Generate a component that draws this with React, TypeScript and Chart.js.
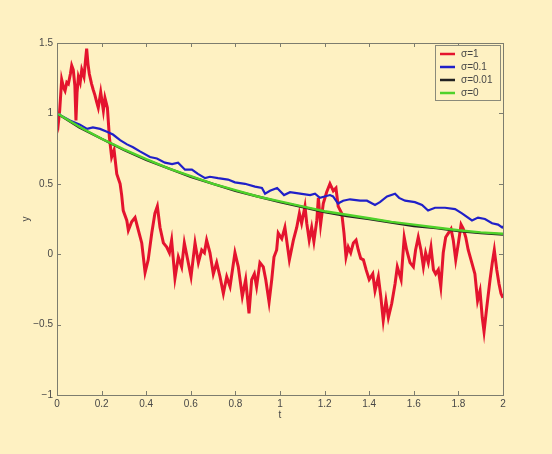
import React, { useEffect, useRef } from "react";
import { Chart, registerables } from "chart.js";

Chart.register(...registerables);

const xTicks = [0, 0.2, 0.4, 0.6, 0.8, 1, 1.2, 1.4, 1.6, 1.8, 2];
const yTicks = [-1, -0.5, 0, 0.5, 1, 1.5];
const legendLabels = ["σ=1", "σ=0.1", "σ=0.01", "σ=0"];

const redT = [0, 0.006, 0.012, 0.021, 0.03, 0.036, 0.044, 0.051, 0.06, 0.066, 0.073, 0.08, 0.085, 0.09, 0.096, 0.104, 0.111, 0.121, 0.128, 0.133, 0.139, 0.145, 0.155, 0.162, 0.17, 0.178, 0.185, 0.196, 0.208, 0.215, 0.226, 0.235, 0.245, 0.256, 0.268, 0.283, 0.29, 0.297, 0.313, 0.32, 0.335, 0.35, 0.365, 0.38, 0.395, 0.409, 0.425, 0.439, 0.45, 0.462, 0.477, 0.492, 0.504, 0.514, 0.529, 0.544, 0.559, 0.571, 0.586, 0.601, 0.619, 0.634, 0.649, 0.661, 0.671, 0.686, 0.701, 0.716, 0.731, 0.746, 0.761, 0.776, 0.798, 0.813, 0.831, 0.846, 0.861, 0.873, 0.885, 0.895, 0.91, 0.925, 0.936, 0.951, 0.963, 0.973, 0.985, 0.992, 1.008, 1.022, 1.042, 1.06, 1.075, 1.087, 1.097, 1.112, 1.12, 1.131, 1.142, 1.152, 1.165, 1.172, 1.182, 1.194, 1.209, 1.224, 1.239, 1.251, 1.261, 1.277, 1.287, 1.296, 1.306, 1.317, 1.329, 1.341, 1.351, 1.362, 1.374, 1.386, 1.4, 1.416, 1.426, 1.441, 1.452, 1.463, 1.475, 1.486, 1.501, 1.516, 1.526, 1.543, 1.557, 1.568, 1.583, 1.598, 1.608, 1.62, 1.632, 1.643, 1.653, 1.665, 1.677, 1.688, 1.698, 1.71, 1.721, 1.732, 1.743, 1.755, 1.767, 1.777, 1.788, 1.8, 1.812, 1.822, 1.833, 1.844, 1.86, 1.874, 1.886, 1.897, 1.907, 1.915, 1.927, 1.942, 1.952, 1.961, 1.972, 1.982, 1.991, 2.0];
const redY = [0.98, 0.93, 1.02, 1.24, 1.18, 1.16, 1.22, 1.21, 1.28, 1.34, 1.31, 1.2, 0.95, 1.15, 1.26, 1.22, 1.31, 1.26, 1.38, 1.46, 1.35, 1.28, 1.21, 1.17, 1.13, 1.08, 1.04, 1.15, 1.02, 1.11, 1.04, 0.83, 0.69, 0.74, 0.57, 0.5, 0.42, 0.31, 0.24, 0.17, 0.23, 0.26, 0.17, 0.08, -0.13, -0.04, 0.15, 0.29, 0.34, 0.19, 0.08, 0.05, 0.01, 0.1, -0.17, -0.02, -0.09, 0.08, -0.04, -0.16, 0.08, -0.06, 0.03, 0.01, 0.1, 0.01, -0.14, -0.06, -0.16, -0.28, -0.16, -0.23, 0.01, -0.09, -0.3, -0.18, -0.42, -0.18, -0.14, -0.23, -0.06, -0.09, -0.18, -0.34, -0.18, -0.02, 0.03, 0.15, 0.11, 0.19, -0.04, 0.1, 0.19, 0.29, 0.22, 0.34, 0.22, 0.1, 0.19, 0.09, 0.24, 0.4, 0.21, 0.36, 0.44, 0.5, 0.45, 0.47, 0.34, 0.29, 0.15, -0.02, 0.05, 0.01, 0.08, 0.1, 0.03, -0.03, -0.04, -0.11, -0.18, -0.14, -0.26, -0.16, -0.3, -0.47, -0.33, -0.45, -0.35, -0.21, -0.09, -0.18, 0.12, 0.03, -0.06, -0.09, 0.03, 0.12, 0.03, -0.09, 0.01, -0.06, 0.05, -0.11, -0.14, -0.11, -0.23, 0.01, 0.12, 0.15, 0.18, 0.1, -0.04, 0.08, 0.21, 0.18, 0.12, 0.03, -0.06, -0.14, -0.33, -0.26, -0.45, -0.55, -0.38, -0.18, -0.06, 0.03, -0.11, -0.21, -0.28, -0.31];

const blueT = [0, 0.058, 0.103, 0.135, 0.161, 0.193, 0.224, 0.251, 0.283, 0.314, 0.341, 0.372, 0.417, 0.448, 0.484, 0.516, 0.543, 0.574, 0.605, 0.632, 0.664, 0.686, 0.722, 0.767, 0.798, 0.843, 0.888, 0.919, 0.933, 0.955, 0.987, 1.018, 1.045, 1.09, 1.135, 1.157, 1.179, 1.224, 1.238, 1.26, 1.283, 1.314, 1.359, 1.39, 1.426, 1.448, 1.48, 1.516, 1.534, 1.561, 1.605, 1.637, 1.664, 1.695, 1.74, 1.785, 1.816, 1.861, 1.888, 1.919, 1.951, 1.978, 1.996, 2.0];
const blueY = [1.0, 0.95, 0.92, 0.89, 0.9, 0.89, 0.87, 0.85, 0.81, 0.78, 0.76, 0.73, 0.69, 0.68, 0.65, 0.64, 0.65, 0.6, 0.6, 0.57, 0.54, 0.55, 0.54, 0.53, 0.51, 0.5, 0.48, 0.47, 0.43, 0.45, 0.47, 0.42, 0.44, 0.43, 0.42, 0.43, 0.4, 0.42, 0.41, 0.36, 0.38, 0.39, 0.38, 0.38, 0.35, 0.37, 0.41, 0.43, 0.4, 0.38, 0.37, 0.35, 0.31, 0.33, 0.33, 0.32, 0.29, 0.24, 0.26, 0.25, 0.22, 0.21, 0.19, 0.2];

const smoothT = [0, 0.1, 0.2, 0.3, 0.4, 0.5, 0.6, 0.7, 0.8, 0.9, 1.0, 1.1, 1.2, 1.3, 1.4, 1.5, 1.6, 1.7, 1.8, 1.9, 2.0];
const blackY = [1.0, 0.9, 0.82, 0.74, 0.67, 0.61, 0.55, 0.5, 0.45, 0.41, 0.37, 0.335, 0.3, 0.27, 0.25, 0.225, 0.2, 0.185, 0.165, 0.15, 0.14];
const greenY = [1.0, 0.905, 0.82, 0.745, 0.675, 0.61, 0.555, 0.5, 0.455, 0.41, 0.375, 0.34, 0.305, 0.28, 0.255, 0.23, 0.21, 0.19, 0.17, 0.155, 0.145];

const colors = ["#e4142e", "#2020c8", "#222222", "#4fd22a"];
const BG = "#fef1c2";
const FRAME = "#7d7d6e";
const TEXT = "#474747";
const FONT = "Liberation Sans, Arial, sans-serif";

const pts = (t: number[], y: number[]) => t.map((v, i) => ({ x: v, y: y[i] }));
const fmt = (v: number) => {
  const r = Math.round(v * 10) / 10;
  return String(r).replace("-", "\u2212");
};

const framePlugin = {
  id: "frame",
  afterDraw(chart: any) {
    const { ctx, chartArea: a, scales } = chart;
    ctx.save();
    ctx.strokeStyle = FRAME;
    ctx.lineWidth = 1;
    ctx.strokeRect(a.left + 0.5, a.top + 0.5, a.right - a.left, a.bottom - a.top);
    const L = 4;
    ctx.beginPath();
    xTicks.forEach((v) => {
      const x = Math.round(scales.x.getPixelForValue(v)) + 0.5;
      ctx.moveTo(x, a.bottom);
      ctx.lineTo(x, a.bottom - L);
      ctx.moveTo(x, a.top);
      ctx.lineTo(x, a.top + L);
    });
    yTicks.forEach((v) => {
      const y = Math.round(scales.y.getPixelForValue(v)) + 0.5;
      ctx.moveTo(a.left, y);
      ctx.lineTo(a.left + L, y);
      ctx.moveTo(a.right, y);
      ctx.lineTo(a.right - L, y);
    });
    ctx.stroke();

    // axis titles
    ctx.fillStyle = TEXT;
    ctx.font = `10px ${FONT}`;
    ctx.textAlign = "center";
    ctx.textBaseline = "middle";
    ctx.fillText("t", (a.left + a.right) / 2, 415);
    ctx.save();
    ctx.translate(26, (a.top + a.bottom) / 2);
    ctx.rotate(-Math.PI / 2);
    ctx.fillText("y", 0, 0);
    ctx.restore();

    // legend
    const lx = 435, ly = 45, lw = 65, lh = 55;
    ctx.fillStyle = BG;
    ctx.fillRect(lx, ly, lw, lh);
    ctx.strokeStyle = "#8a8a7a";
    ctx.strokeRect(lx + 0.5, ly + 0.5, lw, lh);
    legendLabels.forEach((lab, i) => {
      const y = 54 + i * 13;
      ctx.strokeStyle = colors[i];
      ctx.lineWidth = 2.5;
      ctx.beginPath();
      ctx.moveTo(440, y);
      ctx.lineTo(455, y);
      ctx.stroke();
      ctx.fillStyle = TEXT;
      ctx.textAlign = "left";
      ctx.textBaseline = "middle";
      ctx.font = `10px ${FONT}`;
      ctx.fillText(lab, 461, y + 0.5);
    });
    ctx.restore();
  },
};

export default function App() {
  const ref = useRef<HTMLCanvasElement>(null);
  useEffect(() => {
    if (!ref.current) return;
    const mk = (label: string, data: any, color: string, order: number, w: number) => ({
      label,
      data,
      borderColor: color,
      backgroundColor: color,
      borderWidth: w,
      pointRadius: 0,
      tension: 0,
      fill: false,
      order,
    });
    const chart = new Chart(ref.current, {
      type: "line",
      data: {
        datasets: [
          mk(legendLabels[0], pts(redT, redY), colors[0], 4, 3),
          mk(legendLabels[1], pts(blueT, blueY), colors[1], 3, 2.2),
          mk(legendLabels[2], pts(smoothT, blackY), colors[2], 2, 2.4),
          mk(legendLabels[3], pts(smoothT, greenY), colors[3], 1, 2.4),
        ],
      },
      options: {
        animation: false,
        responsive: false,
        maintainAspectRatio: false,
        layout: { padding: { left: 0, right: 49, top: 43, bottom: 0 } },
        plugins: { legend: { display: false }, tooltip: { enabled: false } },
        scales: {
          x: {
            type: "linear",
            min: 0,
            max: 2,
            afterFit: (s: any) => { s.height = 59; },
            afterBuildTicks: (s: any) => { s.ticks = xTicks.map((v) => ({ value: v })); },
            grid: { display: false, drawTicks: false },
            border: { display: false },
            ticks: { callback: (v: any) => fmt(Number(v)), color: TEXT, font: { family: FONT, size: 10 }, padding: 3, maxRotation: 0, autoSkip: false },
          },
          y: {
            type: "linear",
            min: -1,
            max: 1.5,
            afterFit: (s: any) => { s.width = 57; },
            afterBuildTicks: (s: any) => { s.ticks = yTicks.map((v) => ({ value: v })); },
            grid: { display: false, drawTicks: false },
            border: { display: false },
            ticks: { callback: (v: any) => fmt(Number(v)), color: TEXT, font: { family: FONT, size: 10 }, padding: 4, autoSkip: false },
          },
        },
      },
      plugins: [framePlugin],
    });
    return () => chart.destroy();
  }, []);
  return (
    <div style={{ position: "fixed", left: 0, top: 0, width: 552, height: 454, background: BG }}>
      <canvas ref={ref} width={552} height={454} style={{ display: "block", width: 552, height: 454 }} />
    </div>
  );
}
